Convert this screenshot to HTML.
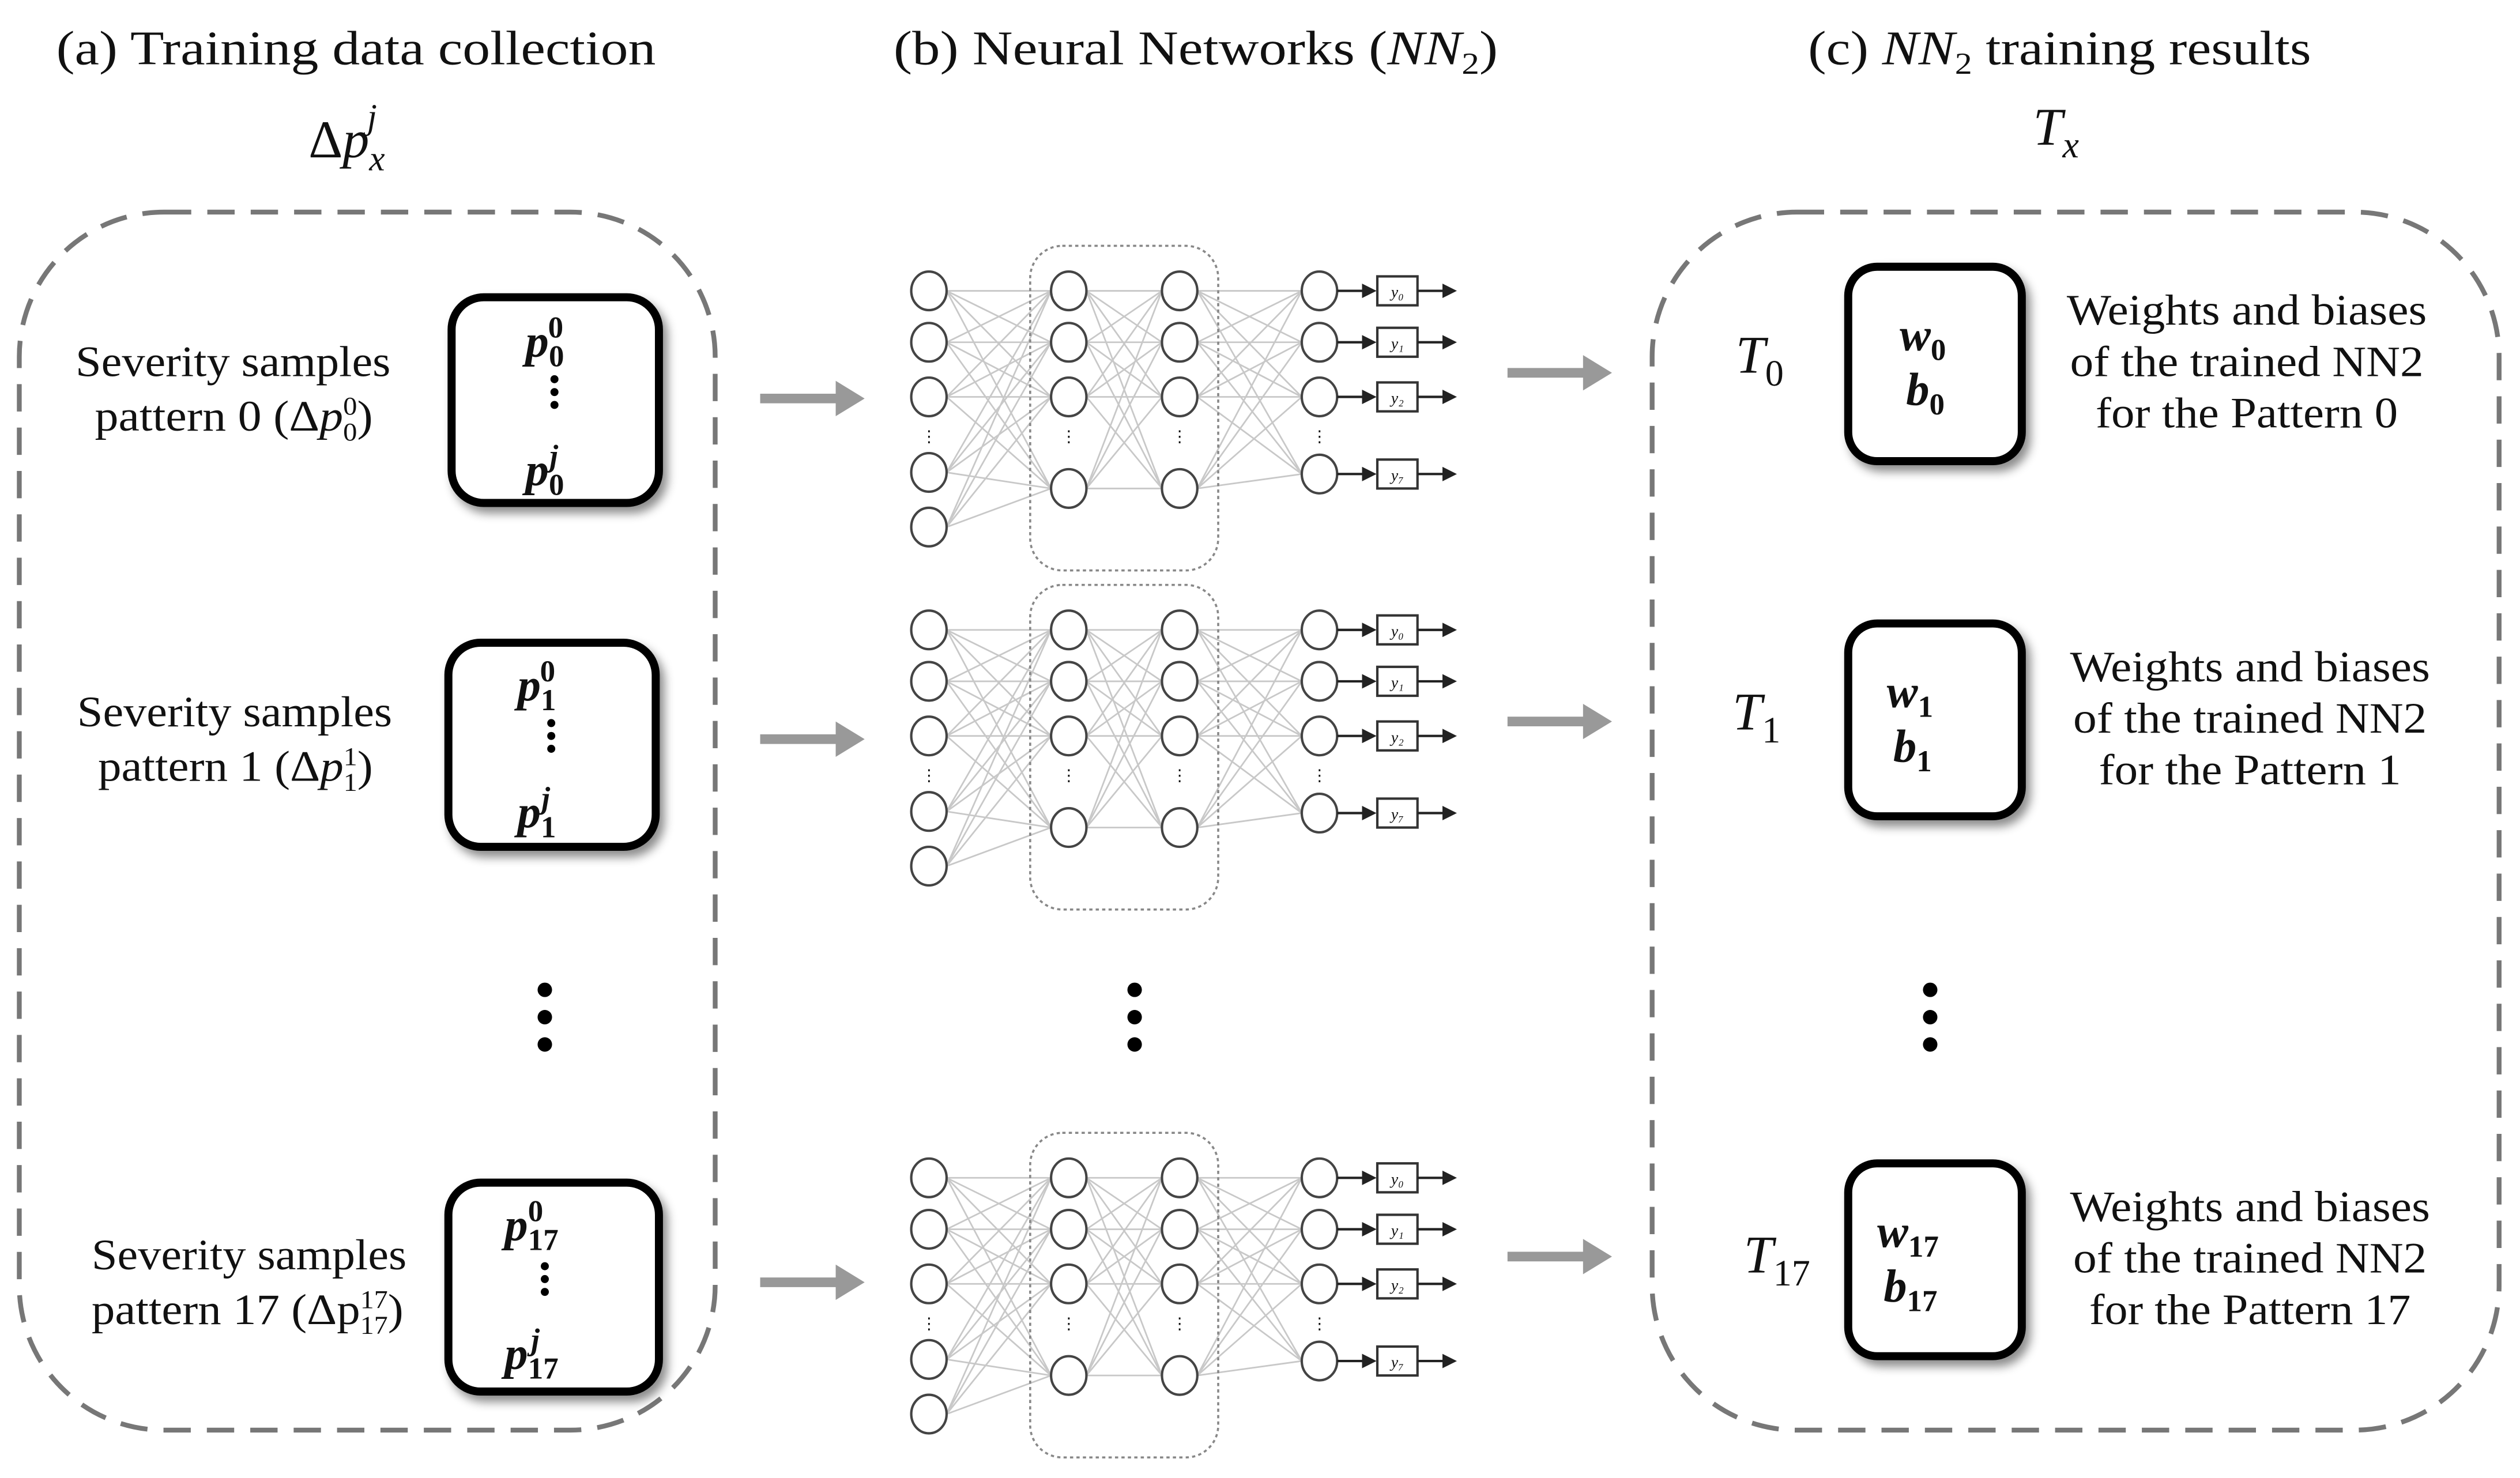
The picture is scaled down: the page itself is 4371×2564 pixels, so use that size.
<!DOCTYPE html>
<html><head><meta charset="utf-8"><style>
html,body{margin:0;padding:0;background:#fff;}
svg{display:block;}
text{font-family:"Liberation Serif",serif;fill:#111;}
</style></head><body>
<svg id="s" width="4371" height="2564" viewBox="0 0 1568 919.8" preserveAspectRatio="none" xmlns="http://www.w3.org/2000/svg">
<defs>
<marker id="ah" markerWidth="6" markerHeight="6" refX="5" refY="3" orient="auto"><path d="M0,0 L6,3 L0,6 z" fill="#222"/></marker>
<filter id="sh" x="-20%" y="-20%" width="150%" height="150%"><feDropShadow dx="3" dy="4" stdDeviation="3" flood-color="#000" flood-opacity="0.45"/></filter>
</defs>
<g font-size="30">
<text x="35" y="40" textLength="373" lengthAdjust="spacingAndGlyphs">(a) Training data collection</text>
<text x="556" y="40" textLength="376" lengthAdjust="spacingAndGlyphs">(b) Neural Networks (<tspan font-style="italic">NN</tspan><tspan font-size="19" dy="6">2</tspan><tspan dy="-6">)</tspan></text>
<text x="1125" y="40" textLength="313" lengthAdjust="spacingAndGlyphs">(c) <tspan font-style="italic">NN</tspan><tspan font-size="19" dy="6">2</tspan><tspan dy="-6"> training results</tspan></text>
<text x="192" y="98" font-size="33">Δ<tspan font-style="italic">p</tspan><tspan font-size="22" font-style="italic" dy="8">x</tspan><tspan font-size="22" font-style="italic" dx="-11" dy="-26">j</tspan></text>
<text x="1265" y="90" font-size="33" font-style="italic">T<tspan font-size="23" dy="8">x</tspan></text>
</g>
<rect x="12" y="132" width="433" height="758" rx="90" fill="none" stroke="#777" stroke-width="3" stroke-dasharray="17,10"/>
<rect x="1028" y="132" width="527" height="758" rx="90" fill="none" stroke="#777" stroke-width="3" stroke-dasharray="17,10"/>
<g fill="#fff" stroke="#000" stroke-width="5" filter="url(#sh)">
<rect x="281" y="185" width="129" height="128" rx="20"/>
<rect x="279" y="400" width="129" height="127" rx="20"/>
<rect x="279" y="736" width="131" height="130" rx="20"/>
<rect x="1150" y="166" width="108" height="121" rx="18"/>
<rect x="1150" y="388" width="108" height="120" rx="18"/>
<rect x="1150" y="724" width="108" height="120" rx="18"/>
</g>
<g font-size="27" lengthAdjust="spacingAndGlyphs">
<text x="47" y="234" textLength="196" lengthAdjust="spacingAndGlyphs">Severity samples</text>
<text x="59" y="268" textLength="173" lengthAdjust="spacingAndGlyphs">pattern 0 (Δ<tspan font-style="italic">p</tspan><tspan font-size="16" dy="6">0</tspan><tspan font-size="16" dx="-8" dy="-16">0</tspan><tspan dy="10">)</tspan></text>
<text x="48" y="452" textLength="196" lengthAdjust="spacingAndGlyphs">Severity samples</text>
<text x="61" y="486" textLength="171" lengthAdjust="spacingAndGlyphs">pattern 1 (Δ<tspan font-style="italic">p</tspan><tspan font-size="16" dy="6">1</tspan><tspan font-size="16" dx="-8" dy="-16">1</tspan><tspan dy="10">)</tspan></text>
<text x="57" y="790" textLength="196" lengthAdjust="spacingAndGlyphs">Severity samples</text>
<text x="57" y="824" textLength="194" lengthAdjust="spacingAndGlyphs">pattern 17 (Δp<tspan font-size="16" dy="6">17</tspan><tspan font-size="16" dx="-16" dy="-16">17</tspan><tspan dy="10">)</tspan></text>
<text x="1286" y="202" textLength="224" lengthAdjust="spacingAndGlyphs">Weights and biases</text>
<text x="1288" y="234" textLength="220" lengthAdjust="spacingAndGlyphs">of the trained NN2</text>
<text x="1304" y="266" textLength="188" lengthAdjust="spacingAndGlyphs">for the Pattern 0</text>
<text x="1288" y="424" textLength="224" lengthAdjust="spacingAndGlyphs">Weights and biases</text>
<text x="1290" y="456" textLength="220" lengthAdjust="spacingAndGlyphs">of the trained NN2</text>
<text x="1306" y="488" textLength="188" lengthAdjust="spacingAndGlyphs">for the Pattern 1</text>
<text x="1288" y="760" textLength="224" lengthAdjust="spacingAndGlyphs">Weights and biases</text>
<text x="1290" y="792" textLength="220" lengthAdjust="spacingAndGlyphs">of the trained NN2</text>
<text x="1300" y="824" textLength="200" lengthAdjust="spacingAndGlyphs">for the Pattern 17</text>
</g>
<g font-size="29" font-weight="bold" font-style="italic">
<text x="327" y="222">p<tspan font-size="19" font-style="normal" dy="6">0</tspan><tspan font-size="19" font-style="normal" dx="-10" dy="-18">0</tspan></text>
<text x="327" y="302">p<tspan font-size="19" font-style="normal" dy="6">0</tspan><tspan font-size="19" dx="-9" dy="-18">j</tspan></text>
<text x="322" y="436">p<tspan font-size="19" font-style="normal" dy="6">1</tspan><tspan font-size="19" font-style="normal" dx="-10" dy="-18">0</tspan></text>
<text x="322" y="515">p<tspan font-size="19" font-style="normal" dy="6">1</tspan><tspan font-size="19" dx="-9" dy="-18">j</tspan></text>
<text x="314" y="772">p<tspan font-size="19" font-style="normal" dy="6">17</tspan><tspan font-size="19" font-style="normal" dx="-19" dy="-18">0</tspan></text>
<text x="314" y="852">p<tspan font-size="19" font-style="normal" dy="6">17</tspan><tspan font-size="19" dx="-17" dy="-18">j</tspan></text>
<text x="1182" y="218">w<tspan font-size="19" font-style="normal" dy="6">0</tspan></text>
<text x="1186" y="252">b<tspan font-size="19" font-style="normal" dy="6">0</tspan></text>
<text x="1174" y="440">w<tspan font-size="19" font-style="normal" dy="6">1</tspan></text>
<text x="1178" y="474">b<tspan font-size="19" font-style="normal" dy="6">1</tspan></text>
<text x="1168" y="776">w<tspan font-size="19" font-style="normal" dy="6">17</tspan></text>
<text x="1172" y="810">b<tspan font-size="19" font-style="normal" dy="6">17</tspan></text>
</g>
<g font-size="33" font-style="italic">
<text x="1080" y="232">T<tspan font-size="23" font-style="normal" dy="8">0</tspan></text>
<text x="1078" y="454">T<tspan font-size="23" font-style="normal" dy="8">1</tspan></text>
<text x="1085" y="792">T<tspan font-size="23" font-style="normal" dy="8">17</tspan></text>
</g>
<g fill="#000">
<circle cx="345" cy="236" r="2.5"/><circle cx="345" cy="244" r="2.5"/><circle cx="345" cy="252" r="2.5"/>
<circle cx="343" cy="450" r="2.5"/><circle cx="343" cy="458" r="2.5"/><circle cx="343" cy="466" r="2.5"/>
<circle cx="339" cy="788" r="2.5"/><circle cx="339" cy="796" r="2.5"/><circle cx="339" cy="804" r="2.5"/>
<circle cx="339" cy="616" r="4.5"/><circle cx="339" cy="633" r="4.5"/><circle cx="339" cy="650" r="4.5"/>
<circle cx="706" cy="616" r="4.5"/><circle cx="706" cy="633" r="4.5"/><circle cx="706" cy="650" r="4.5"/>
<circle cx="1201" cy="616" r="4.5"/><circle cx="1201" cy="633" r="4.5"/><circle cx="1201" cy="650" r="4.5"/>
</g>
<g fill="#999" stroke="none">
<path d="M473,245 L520,245 L520,237 L538,248 L520,259 L520,251 L473,251 z"/>
<path d="M473,457 L520,457 L520,449 L538,460 L520,471 L520,463 L473,463 z"/>
<path d="M473,795 L520,795 L520,787 L538,798 L520,809 L520,801 L473,801 z"/>
<path d="M938,229 L985,229 L985,221 L1003,232 L985,243 L985,235 L938,235 z"/>
<path d="M938,446 L985,446 L985,438 L1003,449 L985,460 L985,452 L938,452 z"/>
<path d="M938,779 L985,779 L985,771 L1003,782 L985,793 L985,785 L938,785 z"/>
</g>
<g id="nets"></g>
<script>
(function(){
var ns="http://www.w3.org/2000/svg",g=document.getElementById("nets");
function el(t,a){var e=document.createElementNS(ns,t);for(var k in a)e.setAttribute(k,a[k]);g.appendChild(e);return e;}
[0,211,552].forEach(function(o){
 var L=[[578,[181,213,247,294,328]],[665,[181,213,247,304]],[734,[181,213,247,304]],[821,[181,213,247,295]]];
 for(var i=0;i<3;i++){L[i][1].forEach(function(a){L[i+1][1].forEach(function(b){el("line",{x1:L[i][0]+11,y1:a+o,x2:L[i+1][0]-11,y2:b+o,stroke:"#c8c8c8","stroke-width":1});});});}
 el("rect",{x:641,y:153+o,width:117,height:202,rx:20,fill:"none",stroke:"#888","stroke-width":1.3,"stroke-dasharray":"2,2"});
 L.forEach(function(l){l[1].forEach(function(y){el("ellipse",{cx:l[0],cy:y+o,rx:11,ry:12,fill:"#fff",stroke:"#444","stroke-width":1.5});});
  el("text",{x:l[0],y:275+o,"font-size":"10","text-anchor":"middle",fill:"#666"}).textContent="⋮";});
 ["y₀","y₁","y₂","y₇"].forEach(function(t,k){var y=[181,213,247,295][k]+o;
  el("line",{x1:832,y1:y,x2:855,y2:y,stroke:"#222","stroke-width":1.5,"marker-end":"url(#ah)"});
  el("rect",{x:857,y:y-9,width:25,height:18,fill:"#fff",stroke:"#333","stroke-width":1.5});
  el("text",{x:869.5,y:y+4,"font-size":"10","text-anchor":"middle","font-style":"italic",fill:"#333"}).textContent=t;
  el("line",{x1:882,y1:y,x2:905,y2:y,stroke:"#222","stroke-width":1.5,"marker-end":"url(#ah)"});});
});
})();
</script>
</svg>
</body></html>
